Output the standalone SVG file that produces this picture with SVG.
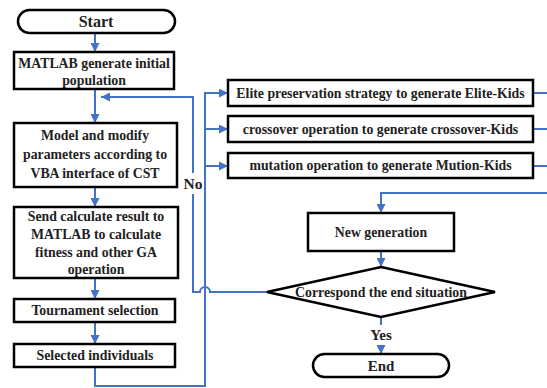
<svg xmlns="http://www.w3.org/2000/svg" width="547" height="388" viewBox="0 0 547 388">
<defs>
<marker id="ah" viewBox="0 0 10 10" refX="10" refY="5" markerWidth="9" markerHeight="9" markerUnits="userSpaceOnUse" orient="auto">
<path d="M0,0 L10,5 L0,10 z" fill="#4472C4"/>
</marker>
<style>
.box{fill:#fff;stroke:#000;stroke-width:2.5}
.t{font-family:"Liberation Serif","Times New Roman",serif;font-weight:bold;fill:#222;text-anchor:middle;dominant-baseline:central}
.s13{font-size:13.8px}
.s12{font-size:13.8px}
.ln{fill:none;stroke:#4472C4;stroke-width:2}
.ar{marker-end:url(#ah)}
</style>
</defs>
<rect width="547" height="388" fill="#fff"/>
<g id="connectors">
<path class="ln ar" d="M95,33 V52"/>
<path class="ln ar" d="M95,89 V123"/>
<path class="ln ar" d="M95,187 V207"/>
<path class="ln ar" d="M95,278 V299"/>
<path class="ln ar" d="M95,322 V344"/>
<path class="ln ar" d="M95,367 V386 H205 V93 H228"/>
<path class="ln ar" d="M205,129 H228"/>
<path class="ln ar" d="M205,166 H228"/>
<path class="ln" d="M533,93 H547"/>
<path class="ln" d="M533,129 H547"/>
<path class="ln" d="M533,166 H547"/>
<path class="ln ar" d="M547,193 H381 V213"/>
<path class="ln ar" d="M381,251 V267"/>
<path class="ln" d="M381,317 V325"/>
<path class="ln ar" d="M381,345 V354"/>
<path class="ln" d="M267,292 H210 a5,5 0 0 0 -10,0 H193 V194"/>
<path class="ln ar" d="M193,173 V97 H101"/>
<text class="t" x="193" y="183" style="font-size:15.5px">No</text>
<text class="t" x="381" y="335" style="font-size:15px">Yes</text>
</g>
<g id="start">
<rect class="box" x="18" y="10" width="157" height="23" rx="11.5"/>
<text class="t" x="96" y="21.5" style="font-size:16px">Start</text>
</g>
<g id="init">
<rect class="box" x="14" y="52" width="160" height="37"/>
<text class="t s13" x="94" y="63">MATLAB generate initial</text>
<text class="t s13" x="94" y="80">population</text>
</g>
<g id="model">
<rect class="box" x="14" y="123" width="163" height="64"/>
<text class="t s13" x="95" y="135">Model and modify</text>
<text class="t s13" x="95" y="154">parameters according to</text>
<text class="t s13" x="95" y="173">VBA interface of CST</text>
</g>
<g id="send">
<rect class="box" x="14" y="207" width="164" height="71"/>
<text class="t s13" x="96" y="216.5">Send calculate result to</text>
<text class="t s13" x="96" y="234.5">MATLAB to calculate</text>
<text class="t s13" x="96" y="252.5">fitness and other GA</text>
<text class="t s13" x="96" y="269.5">operation</text>
</g>
<g id="tournament">
<rect class="box" x="14" y="299" width="161" height="23"/>
<text class="t s13" x="95" y="310.5">Tournament selection</text>
</g>
<g id="selected">
<rect class="box" x="14" y="344" width="161" height="23"/>
<text class="t s13" x="95" y="355.5">Selected individuals</text>
</g>
<g id="elite">
<rect class="box" x="228" y="80" width="305" height="26"/>
<text class="t s12" x="380.5" y="93">Elite preservation strategy to generate Elite-Kids</text>
</g>
<g id="crossover">
<rect class="box" x="228" y="116" width="305" height="26"/>
<text class="t s12" x="380.5" y="129">crossover operation to generate crossover-Kids</text>
</g>
<g id="mutation">
<rect class="box" x="228" y="153" width="305" height="25"/>
<text class="t s12" x="380.5" y="165.5">mutation operation to generate Mution-Kids</text>
</g>
<g id="newgen">
<rect class="box" x="308" y="213" width="146" height="38"/>
<text class="t s12" x="381" y="232">New generation</text>
</g>
<g id="decision">
<path class="box" d="M381,267 L495,292 L381,317 L267,292 Z"/>
<text class="t s12" x="381" y="292">Correspond the end situation</text>
</g>
<g id="end">
<rect class="box" x="313" y="354" width="136" height="23" rx="11.5"/>
<text class="t" x="381" y="365.5" style="font-size:15px">End</text>
</g>
</svg>
